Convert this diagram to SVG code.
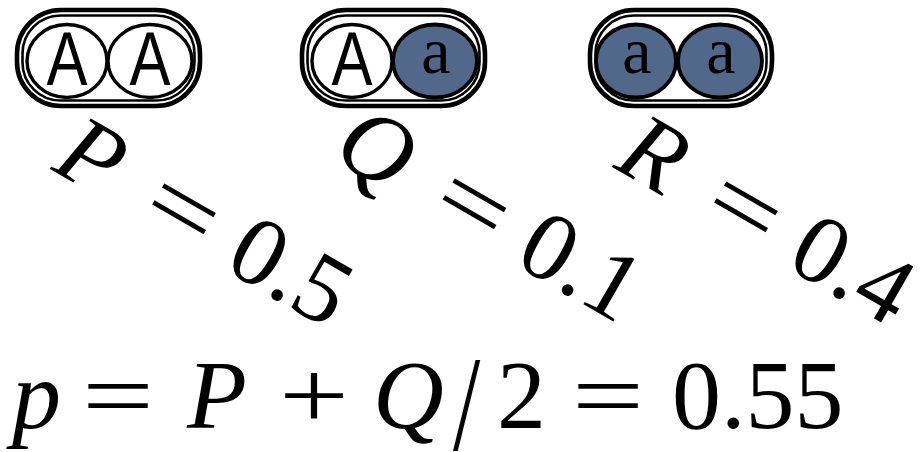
<svg xmlns="http://www.w3.org/2000/svg" width="921" height="452" viewBox="0 0 921 452">
<style>
.outer{fill:#fff;stroke:#000;stroke-width:4.6}
.inner{fill:none;stroke:#000;stroke-width:2.6}
.cw{fill:#fff;stroke:#000;stroke-width:3.4}
.cb{fill:#52688a;stroke:#000;stroke-width:3.8}
.A{font-family:'Liberation Sans',Arial,sans-serif;font-size:76px;fill:#000;text-anchor:middle}
.a{font-family:'Liberation Serif','Noto Serif','Tinos','Nimbus Roman','FreeSerif','Latin Modern Roman','CMU Serif','Liberation Sans',sans-serif;font-size:66px;fill:#000;text-anchor:middle}
.m{font-family:'Liberation Serif','Noto Serif','Tinos','Nimbus Roman','FreeSerif','Latin Modern Roman','CMU Serif','Liberation Sans',sans-serif;font-size:98px;fill:#000}
.i{font-style:italic}
</style>
<rect width="921" height="452" fill="#fff"/>
<g id="pill-AA">
<rect class="outer" x="17" y="10" width="183" height="96" rx="44" ry="44"/>
<rect class="inner" x="22.5" y="15.5" width="172" height="85" rx="38" ry="38"/>
<ellipse class="cw" cx="67" cy="61" rx="40" ry="36.5"/>
<ellipse class="cw" cx="150" cy="61" rx="42" ry="36.5"/>
<text class="A" x="67" y="85" textLength="41" lengthAdjust="spacingAndGlyphs">A</text>
<text class="A" x="150" y="85" textLength="41" lengthAdjust="spacingAndGlyphs">A</text>
</g>
<g id="pill-Aa">
<rect class="outer" x="302" y="10" width="183" height="96" rx="44" ry="44"/>
<rect class="inner" x="307.5" y="15.5" width="172" height="85" rx="38" ry="38"/>
<ellipse class="cw" cx="352" cy="61" rx="40" ry="36.5"/>
<ellipse class="cb" cx="435" cy="61" rx="42" ry="36.5"/>
<text class="A" x="352" y="85" textLength="41" lengthAdjust="spacingAndGlyphs">A</text>
<text class="a" x="436" y="73">a</text>
</g>
<g id="pill-aa">
<rect class="outer" x="590" y="10" width="182" height="96" rx="44" ry="44"/>
<rect class="inner" x="595.5" y="15.5" width="171" height="85" rx="38" ry="38"/>
<ellipse class="cb" cx="636" cy="61" rx="40" ry="36.5"/>
<ellipse class="cb" cx="720" cy="61" rx="42" ry="36.5"/>
<text class="a" x="637" y="73">a</text>
<text class="a" x="721" y="73">a</text>
</g>
<g id="label-P" transform="translate(50,169) rotate(30)">
<text class="m i" x="0" y="0">P</text>
<text class="m" x="100" y="0" textLength="72" lengthAdjust="spacingAndGlyphs">=</text>
<text class="m" x="198.5" y="0">0.5</text>
</g>
<g id="label-Q" transform="translate(330,158) rotate(30)">
<text class="m i" x="0" y="0">Q</text>
<text class="m" x="112" y="0" textLength="72" lengthAdjust="spacingAndGlyphs">=</text>
<text class="m" x="210.5" y="0">0.1</text>
</g>
<g id="label-R" transform="translate(612,167) rotate(30)">
<text class="m i" x="0" y="0">R</text>
<text class="m" x="100" y="0" textLength="72" lengthAdjust="spacingAndGlyphs">=</text>
<text class="m" x="198.5" y="0">0.4</text>
</g>
<g id="formula">
<text class="m i" x="12" y="428">p</text>
<text class="m" x="82" y="428" textLength="72" lengthAdjust="spacingAndGlyphs">=</text>
<text class="m i" x="187" y="428">P</text>
<text class="m" x="279" y="428" textLength="70" lengthAdjust="spacingAndGlyphs">+</text>
<text class="m i" x="373" y="428">Q</text>
<text class="m" transform="translate(453,450) scale(1,1.38)" x="0" y="0">/</text>
<text class="m" x="497" y="428">2</text>
<text class="m" x="572" y="428" textLength="72" lengthAdjust="spacingAndGlyphs">=</text>
<text class="m" x="672" y="428">0.55</text>
</g>
</svg>
